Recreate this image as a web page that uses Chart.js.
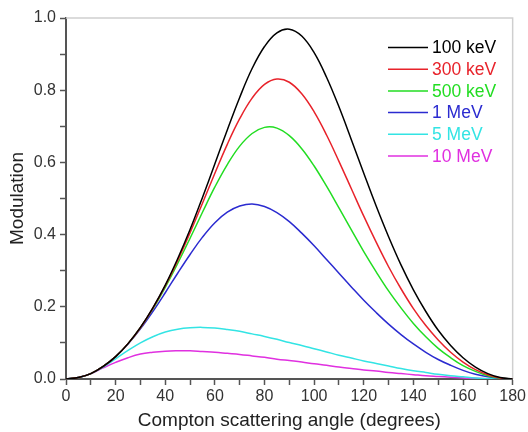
<!DOCTYPE html>
<html>
<head>
<meta charset="utf-8">
<script src="https://cdn.jsdelivr.net/npm/chart.js@4"></script>
<style>
  body { margin: 0; background: #fff; }
  canvas { display: block; }
</style>
</head>
<body>
<canvas id="modChart" width="528" height="432"></canvas>
<script>
// scattering angle in degrees
const angles = [0, 5, 10, 15, 20, 25, 30, 35, 40, 45, 50, 55, 60, 65, 70, 75, 80, 85, 90,
                95, 100, 105, 110, 115, 120, 125, 130, 135, 140, 145, 150, 155, 160, 165, 170, 175, 180];

// modulation
const mod100keV = [0, 0.004, 0.015, 0.035, 0.062, 0.098, 0.143, 0.197, 0.260, 0.333, 0.414, 0.503, 0.596, 0.690, 0.780, 0.860, 0.921, 0.959, 0.969,
                   0.950, 0.904, 0.836, 0.754, 0.663, 0.570, 0.479, 0.394, 0.316, 0.247, 0.187, 0.135, 0.093, 0.059, 0.033, 0.015, 0.004, 0];
const mod300keV = [0, 0.004, 0.015, 0.035, 0.062, 0.098, 0.142, 0.196, 0.258, 0.328, 0.405, 0.487, 0.570, 0.650, 0.721, 0.778, 0.816, 0.831, 0.822,
                   0.790, 0.740, 0.676, 0.603, 0.527, 0.451, 0.379, 0.311, 0.250, 0.195, 0.148, 0.108, 0.074, 0.047, 0.026, 0.012, 0.003, 0];
const mod500keV = [0, 0.004, 0.015, 0.035, 0.062, 0.098, 0.142, 0.194, 0.254, 0.320, 0.390, 0.462, 0.532, 0.594, 0.645, 0.680, 0.697, 0.695, 0.674,
                   0.638, 0.590, 0.534, 0.474, 0.413, 0.353, 0.297, 0.244, 0.197, 0.154, 0.117, 0.085, 0.059, 0.037, 0.021, 0.009, 0.002, 0];
const mod1MeV   = [0, 0.004, 0.015, 0.035, 0.062, 0.097, 0.139, 0.187, 0.239, 0.293, 0.345, 0.393, 0.433, 0.462, 0.479, 0.485, 0.478, 0.461, 0.436,
                   0.404, 0.369, 0.331, 0.293, 0.255, 0.218, 0.184, 0.152, 0.123, 0.097, 0.074, 0.054, 0.038, 0.024, 0.013, 0.006, 0.002, 0];
const mod5MeV   = [0, 0.004, 0.015, 0.033, 0.056, 0.079, 0.100, 0.117, 0.130, 0.138, 0.142, 0.143, 0.141, 0.137, 0.132, 0.125, 0.118, 0.110, 0.101,
                   0.093, 0.084, 0.075, 0.066, 0.058, 0.050, 0.043, 0.036, 0.029, 0.023, 0.018, 0.013, 0.009, 0.006, 0.003, 0.001, 0.0004, 0];
const mod10MeV  = [0, 0.004, 0.015, 0.031, 0.046, 0.059, 0.069, 0.074, 0.077, 0.078, 0.078, 0.076, 0.074, 0.071, 0.068, 0.064, 0.060, 0.055, 0.051,
                   0.047, 0.042, 0.038, 0.033, 0.029, 0.025, 0.022, 0.018, 0.015, 0.012, 0.009, 0.007, 0.005, 0.003, 0.002, 0.001, 0.0002, 0];

const seriesNames  = ['100 keV', '300 keV', '500 keV', '1 MeV', '5 MeV', '10 MeV'];
const seriesValues = [mod100keV, mod300keV, mod500keV, mod1MeV, mod5MeV, mod10MeV];
const seriesColors = ['#000000', '#e8232b', '#22dd22', '#2b2bd0', '#33e4e4', '#e030e0'];

const FONT = 'Liberation Sans, Arial, sans-serif';
Chart.defaults.font.family = FONT;

const datasets = seriesNames.map((name, i) => ({
    label: name,
    data: seriesValues[i].map((v, j) => ({ x: angles[j], y: v })),
    borderColor: seriesColors[i],
    borderWidth: 1.5,
    pointRadius: 0,
    fill: false,
    tension: 0.4
}));

// light grey top/right frame like the original plot box
const framePlugin = {
    id: 'frame',
    beforeDatasetsDraw(chart) {
        const { ctx, chartArea: a } = chart;
        ctx.save();
        ctx.strokeStyle = '#cfcfcf';
        ctx.lineWidth = 1.5;
        ctx.beginPath();
        ctx.moveTo(a.left, a.top);
        ctx.lineTo(a.right, a.top);
        ctx.lineTo(a.right, a.bottom);
        ctx.stroke();
        ctx.restore();
    }
};

// legend inside the plot, text coloured like its line
const legendPlugin = {
    id: 'insideLegend',
    afterDraw(chart) {
        const ctx = chart.ctx;
        ctx.save();
        ctx.font = '17.5px ' + FONT;
        ctx.textBaseline = 'middle';
        chart.data.datasets.forEach((ds, i) => {
            const y = 47.5 + i * 21.7;
            ctx.strokeStyle = ds.borderColor;
            ctx.lineWidth = 1.5;
            ctx.beginPath();
            ctx.moveTo(388, y);
            ctx.lineTo(428, y);
            ctx.stroke();
            ctx.fillStyle = ds.borderColor;
            ctx.fillText(ds.label, 432, y + 1);
        });
        ctx.restore();
    }
};

new Chart(document.getElementById('modChart'), {
    type: 'line',
    data: { datasets: datasets },
    options: {
        responsive: false,
        animation: false,
        layout: { padding: { top: 18, right: 14, left: 0, bottom: 0 } },
        plugins: {
            legend: { display: false },
            tooltip: { enabled: false }
        },
        scales: {
            x: {
                type: 'linear',
                min: 0,
                max: 180,
                afterFit(scale) { scale.height = 53; },
                ticks: {
                    stepSize: 10,
                    autoSkip: false,
                    maxRotation: 0,
                    padding: 2,
                    color: '#333',
                    font: { size: 16 },
                    callback: v => (v % 20 === 0 ? v : '')
                },
                grid: { drawOnChartArea: false, tickLength: 6, tickColor: '#555', tickWidth: 1.5 },
                border: { color: '#555', width: 2 },
                title: {
                    display: true,
                    text: 'Compton scattering angle (degrees)',
                    color: '#222',
                    font: { size: 19 },
                    padding: { top: 0, bottom: 0 }
                }
            },
            y: {
                min: 0,
                max: 1,
                afterFit(scale) { scale.width = 66; },
                ticks: {
                    stepSize: 0.1,
                    autoSkip: false,
                    padding: 4,
                    color: '#333',
                    font: { size: 16 },
                    callback: v => (Math.round(v * 10) % 2 === 0 ? v.toFixed(1) : '')
                },
                grid: { drawOnChartArea: false, tickLength: 6, tickColor: '#555', tickWidth: 1.5 },
                border: { color: '#555', width: 2 },
                title: {
                    display: true,
                    text: 'Modulation',
                    color: '#222',
                    font: { size: 19 },
                    padding: { top: 6, bottom: 0 }
                }
            }
        }
    },
    plugins: [framePlugin, legendPlugin]
});
</script>
</body>
</html>
